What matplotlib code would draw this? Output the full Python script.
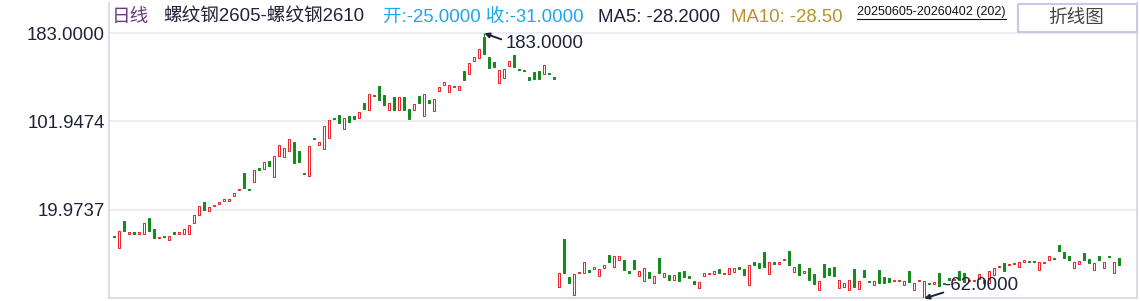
import numpy as np
import matplotlib
matplotlib.use("Agg")
import matplotlib.pyplot as plt
from matplotlib.patches import Rectangle
from matplotlib.lines import Line2D

plt.rcParams['font.family'] = ['Liberation Sans', 'Noto Sans CJK SC', 'DejaVu Sans']

# ---------------- data ----------------
opens = [
    -4.5, -15, 10, -2, -1, -2, -2, 12, 2, -6,
    -4.5, -7.5, -1, -2, -2, -2, 8, 15.5, 27, 19,
    23.5, 25.5, 28.5, 28, 33, 38, 54, 39, 46, 58.5,
    58, 65, 50, 70, 69, 74.5, 82.5, 74, 54, 51,
    86.5, 80, 76, 86, 104.5, 107.5, 94.5, 106.5, 107, 105,
    118.5, 112, 125, 134, 126, 112, 124, 112, 124, 113,
    112, 125, 106.5, 121.5, 111, 130, 135.5, 129, 133.5, 131,
    148, 145.5, 157, 160, 180, 161, 156.5, 137, 142, 153,
    163, 150, 149, 142.5, 147, 148, 145.5, 146.5, 142.5,
    -51, -7, -42, -59, -38.5, -38.5, -35.5, -35, -41, -34,
    -22, -32.5, -26, -26.5, -36.5, -26.5, -41, -46, -37.5, -47.5,
    -24.5, -42, -40, -45, -37.5, -36.5, -41, -46, -52, -41,
    -39, -39.5, -35, -39, -39.5, -37.5, -33, -35, -49.5, -28,
    -29, -19, -39.5, -28.5, -30, -26.5, -18, -37.5, -30, -38,
    -34, -39.5, -54, -30, -34, -33, -52, -51, -54, -35,
    -53, -35.5, -46, -49.5, -35.5, -42, -43, -45.5, -45.5, -49.5,
    -36.5, -54, -45.5, -62, -47.5, -48.5, -38.5, -47.5, -43, -45,
    -36.5, -38.5, -45.5, -46, -44, -45, -47.5, -40, -33, -29,
    -31, -30, -33, -28, -27, -27, -35.5, -29, -26, -24.5,
    -12.5, -19, -23, -33.5, -30, -20, -25.5, -35.5, -23, -33.5,
    -22.5, -38.5, -25,
]
closes = [
    -5.5, 0, 0, -1, -2, -1, 8, 0, -6, -5,
    -5.5, -4.5, -2, -1, 2, 6, 15, 23.5, 20, 22.5,
    24.5, 27, 29.5, 30, 35.5, 39, 40, 38, 57, 57,
    64, 60.5, 70, 80, 77, 85.5, 63, 64, 53, 79,
    85.5, 82.5, 97.5, 103, 103.5, 100, 104.5, 101, 104, 110,
    113, 127, 126, 121.5, 117, 118.5, 112, 124, 112, 104,
    117.5, 118.5, 127, 119, 122, 133.5, 138, 135, 134.5, 134,
    140, 155.5, 161, 168.5, 164, 151, 152, 149, 150, 157.5,
    152, 149, 148, 140, 141, 141, 153.5, 145.5, 141,
    -38.5, -38.5, -47.5, -39.5, -37.5, -28.5, -37.5, -33, -34.5, -31,
    -28, -22.5, -23, -35.5, -38, -34.5, -37, -34, -43, -41,
    -38.5, -38.5, -45, -40, -46, -42, -43, -48.5, -47, -38.5,
    -38, -36.5, -38.5, -38, -34, -34, -34.5, -40, -31, -31,
    -34, -33, -28, -30, -28.5, -25.5, -31, -33, -40, -36.5,
    -45, -48.5, -46, -42, -40, -41, -45, -48, -45, -51,
    -46, -42, -47, -46, -47.5, -47.5, -46.5, -44.5, -44.5, -46,
    -46.5, -47.5, -44.5, -45.5, -48.5, -47, -50.5, -48.5, -45, -44,
    -45, -46.5, -44.5, -45, -39.5, -47.5, -36.5, -34, -32, -36.5,
    -30, -29, -28.5, -26.5, -28, -28, -28.5, -28, -23, -25.5,
    -18, -24.5, -26, -28.5, -27.5, -26, -29, -29, -26, -28.5,
    -23.5, -28.5, -31,
]
peak_idx, peak_val = 74, 183.0
trough_idx, trough_val = 162, -62.0
tick_vals = [183.0, 101.9474, 19.9737]
tick_labels = ['183.0000', '101.9474', '19.9737']
title_kind = '日线'
title_name = '螺纹钢2605-螺纹钢2610'
oc_text = '开:-25.0000 收:-31.0000'
ma5_text = 'MA5: -28.2000'
ma10_text = 'MA10: -28.50'
range_text = '20250605-20260402 (202)'
button_text = '折线图'

# ---------------- style ----------------
W, H, DPI = 1140, 301, 100
RED = '#e8262e'
GREEN = '#168a1e'
GRID = '#e7e7f2'
SPINE = '#dadaea'
NAVY = '#1f2238'
FS = 13.4

def fx(px):
    return px / W

def fy(py):
    return 1 - py / H

fig = plt.figure(figsize=(W / DPI, H / DPI), dpi=DPI)
fig.patch.set_facecolor('white')
ax = fig.add_axes([fx(109), fy(298.3), (1137 - 109) / W, (298.3 - 3) / H])

o = np.array(opens, dtype=float)
c = np.array(closes, dtype=float)
x = np.arange(len(o))
up = c >= o
faces = ['white' if u else GREEN for u in up]
edges = [RED if u else GREEN for u in up]
ax.bar(x, c - o, bottom=o, width=0.4, color=faces, edgecolor=edges,
       linewidth=0.75, zorder=3)
# wick to the extreme high
ax.vlines(peak_idx, max(o[peak_idx], c[peak_idx]), peak_val,
          color=GREEN, lw=0.75, zorder=3)

ax.set_xlim(-1.06, 204.54)
ax.set_ylim(-61.8, 211.0)
ax.set_yticks(tick_vals)
ax.set_yticklabels(tick_labels, fontsize=FS, color=NAVY)
ax.set_xticks([])
ax.tick_params(axis='y', length=0, pad=3)
ax.grid(axis='y', color=GRID, lw=1.1, zorder=0)
ax.set_axisbelow(True)
for s in ['left', 'right', 'bottom']:
    ax.spines[s].set_color(SPINE)
    ax.spines[s].set_linewidth(1.4)
ax.spines['top'].set_visible(False)

# annotations for max/min
ax.annotate('', xy=(peak_idx, peak_val), xytext=(17, -6),
            textcoords='offset pixels',
            arrowprops=dict(arrowstyle='-|>', color=NAVY, lw=1.4,
                            shrinkA=0, shrinkB=0, mutation_scale=7), zorder=5)
ax.annotate('', xy=(trough_idx, trough_val), xytext=(19, 6),
            textcoords='offset pixels',
            arrowprops=dict(arrowstyle='-|>', color=NAVY, lw=1.4,
                            shrinkA=0, shrinkB=0, mutation_scale=7), zorder=5)
fig.text(fx(506), fy(44), '%.4f' % peak_val, fontsize=FS, color=NAVY,
         va='center', ha='left')
fig.text(fx(944), fy(286), '%.4f' % trough_val, fontsize=FS, color=NAVY,
         va='center', ha='left')

# header
ty = fy(17)
fig.text(fx(112), ty, title_kind, fontsize=FS, color='#6a3c7c', va='center')
fig.text(fx(163), ty, title_name, fontsize=FS, color=NAVY, va='center')
fig.text(fx(383), ty, oc_text, fontsize=FS, color='#1ea6ee', va='center')
fig.text(fx(598), ty, ma5_text, fontsize=FS, color=NAVY, va='center')
fig.text(fx(731), ty, ma10_text, fontsize=FS, color='#b8922c', va='center')
dt = fig.text(fx(857), fy(12), range_text, fontsize=9.0, color='#111111',
              va='center')

# button
btn = Rectangle((fx(1018), fy(32)), (1137 - 1018) / W, 28 / H,
                transform=fig.transFigure, facecolor='white',
                edgecolor='#c6c9e8', lw=1.5, zorder=4)
fig.add_artist(btn)
fig.text(fx(1076), fy(18), button_text, fontsize=FS, color='#444444',
         va='center', ha='center', zorder=6)

# underline for date range
fig.canvas.draw()
bb = dt.get_window_extent()
uy = fig.transFigure.inverted().transform((0, bb.y0 - 0.5))[1]
x0 = bb.x0 / W
x1 = bb.x1 / W
fig.add_artist(Line2D([x0, x1], [uy, uy], transform=fig.transFigure,
                      color='#111111', lw=0.8))

fig.savefig('out.png', dpi=DPI, facecolor='white')
